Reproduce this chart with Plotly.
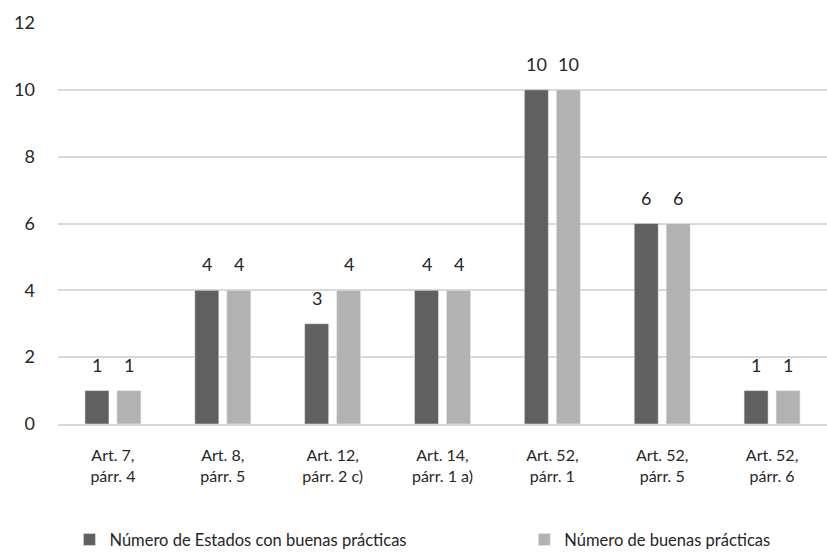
import plotly.graph_objects as go

categories = [
    "Art. 7,<br>párr. 4",
    "Art. 8,<br>párr. 5",
    "Art. 12,<br>párr. 2 c)",
    "Art. 14,<br>párr. 1 a)",
    "Art. 52,<br>párr. 1",
    "Art. 52,<br>párr. 5",
    "Art. 52,<br>párr. 6",
]
estados = [1, 4, 3, 4, 10, 6, 1]
practicas = [1, 4, 4, 4, 10, 6, 1]
y_ticks = [0, 2, 4, 6, 8, 10, 12]

FONT = "Lato, 'Open Sans', sans-serif"
TXT = "#262626"

fig = go.Figure()
fig.add_trace(go.Bar(
    x=categories, y=estados, name="Número de Estados con buenas prácticas",
    marker=dict(color="#606060"), legend="legend",
))
fig.add_trace(go.Bar(
    x=categories, y=practicas, name="Número de buenas prácticas",
    marker=dict(color="#b2b2b2"), legend="legend2",
))

# value labels above each bar, offset to each bar of the pair
for vals, dx in ((estados, -16), (practicas, 16)):
    for cat, v in zip(categories, vals):
        fig.add_annotation(
            x=cat, y=v, text=str(v), showarrow=False,
            xshift=dx, yshift=13, yanchor="bottom",
            font=dict(size=18, color=TXT, family=FONT),
        )

legend_style = dict(
    orientation="h", xref="container", yref="container",
    xanchor="left", y=0.024, yanchor="middle",
    font=dict(size=16.5, color=TXT, family=FONT),
)

fig.update_layout(
    width=827, height=553,
    margin=dict(l=58, r=0, t=23, b=129, autoexpand=False),
    paper_bgcolor="white", plot_bgcolor="white",
    barmode="group", bargap=0.418, bargroupgap=0.25,
    font=dict(family=FONT, color=TXT),
    showlegend=True,
    legend=dict(x=0.084, **legend_style),
    legend2=dict(x=0.634, **legend_style),
)
fig.update_xaxes(
    type="category", range=[-0.5, 6.5],
    showgrid=False, showline=True, linecolor="#d9d9d9", linewidth=2,
    ticks="", tickfont=dict(size=16, color=TXT, family=FONT),
    ticklabelstandoff=16,
)
fig.update_yaxes(
    range=[0, 12], tickvals=y_ticks, showgrid=True, gridcolor="#d9d9d9",
    gridwidth=1.5, zeroline=False, showline=False,
    tickfont=dict(size=18, color=TXT, family=FONT),
    ticklabelstandoff=22,
)

fig.write_html("out.html")
